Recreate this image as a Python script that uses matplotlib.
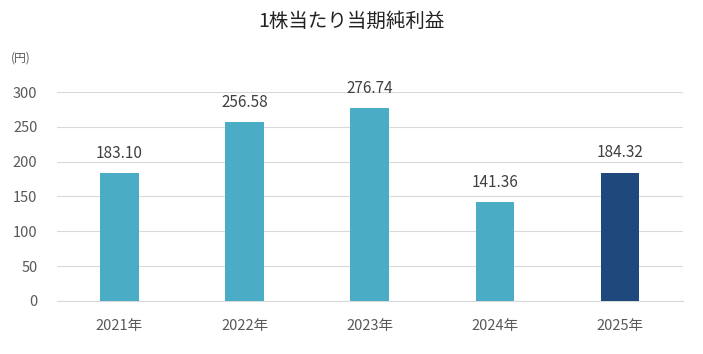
import matplotlib.pyplot as plt

plt.rcParams['font.family'] = ['Noto Sans CJK JP', 'DejaVu Sans']

# Data
years = ["2021年", "2022年", "2023年", "2024年", "2025年"]
eps = [183.10, 256.58, 276.74, 141.36, 184.32]
colors = ["#4bacc6", "#4bacc6", "#4bacc6", "#4bacc6", "#1f497d"]

text_color = "#595959"

fig = plt.figure(figsize=(7.03, 3.54), dpi=100)
ax = fig.add_axes([0.081, 0.15, 0.89, 0.59])

x = range(len(years))
ax.bar(x, eps, width=0.31, color=colors, zorder=3)

for i, v in zip(x, eps):
    ax.annotate(f"{v:.2f}", (i, v), xytext=(0, 8), textcoords="offset points",
                ha="center", va="bottom", fontsize=11, color="#404040")

ax.set_xlim(-0.5, 4.5)
ax.set_ylim(0, 300)
ax.set_yticks(range(0, 301, 50))
ax.set_xticks(list(x))
ax.set_xticklabels(years)
ax.grid(axis="y", color="#d9d9d9", linewidth=0.8, zorder=0)
for side in ["top", "right", "left"]:
    ax.spines[side].set_visible(False)
ax.spines["bottom"].set_color("#d9d9d9")
ax.tick_params(axis="both", length=0, colors=text_color, labelsize=10.5)
ax.tick_params(axis="x", pad=13)
ax.tick_params(axis="y", pad=14)

fig.text(0.5, 0.94, "1株当たり当期純利益", ha="center", va="center",
         fontsize=14, color="#222222")
fig.text(0.03, 0.835, "(円)", ha="center", va="center", fontsize=8.5, color=text_color)

fig.savefig("out.png", dpi=100)
